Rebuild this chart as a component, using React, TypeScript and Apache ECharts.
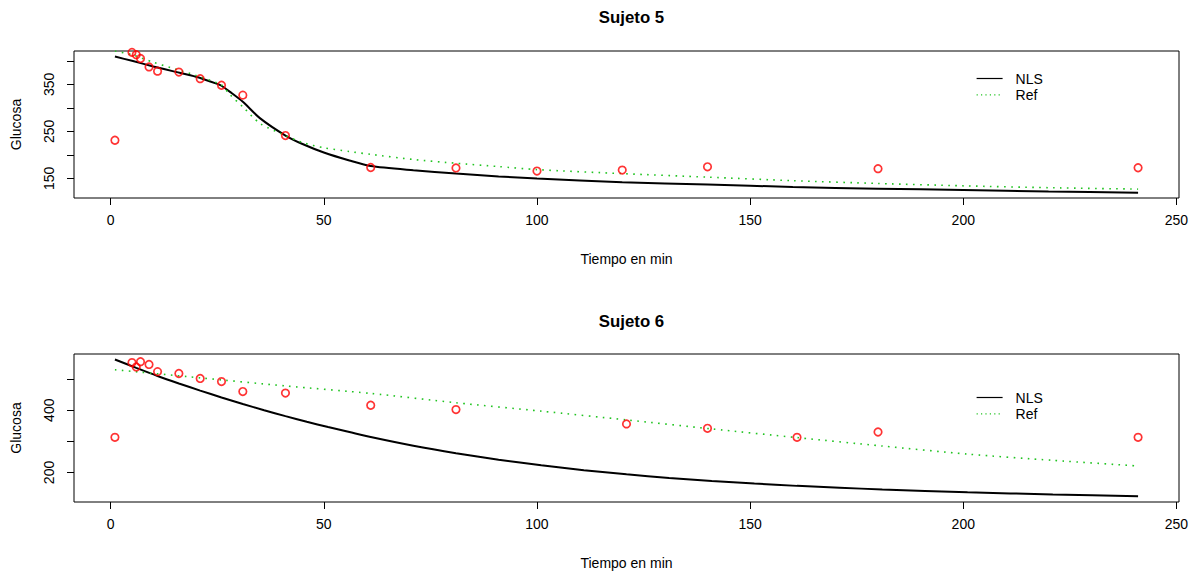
import React, { useEffect, useRef } from "react";
import * as echarts from "echarts";

const FONT = "'Liberation Sans', Arial, Helvetica, sans-serif";

// ---------- Sujeto 5 ----------
const time5 = [1, 5, 6, 7, 9, 11, 16, 21, 26, 31, 41, 61, 81, 100, 120, 140, 180, 241];
const glucose5 = [231, 418, 413, 405, 387, 378, 376, 362, 348, 327, 241, 173, 172, 165.5, 167.5, 174.5, 170.5, 172.5];
const curveTime5 = [1, 5, 10, 15, 20, 25, 26, 28, 31, 35, 41, 45, 50, 56, 61, 71, 81, 91, 100, 120, 140, 160, 180, 200, 220, 241];
const nls5 = [409, 400, 388, 377, 366, 351, 347, 334, 313, 278, 241, 223, 205, 188, 176, 167, 160, 154, 149.5, 141.5, 137, 131.5, 128, 125, 122, 119.5];
const ref5 = [421, 413, 397, 383, 369, 353, 349, 328, 302, 267, 241, 226, 215, 207, 201, 190, 182, 175, 168.5, 160, 152.5, 145, 139, 134, 130, 127];

// ---------- Sujeto 6 ----------
const time6 = [1, 5, 6, 7, 9, 11, 16, 21, 26, 31, 41, 61, 81, 121, 140, 161, 180, 241];
const glucose6 = [313, 553, 539, 556, 547, 524, 518, 502, 492, 460, 455, 416, 402, 356, 342, 313, 330, 313];
const nlsTime6 = [1, 6, 11, 16, 21, 26, 31, 36, 41, 46, 51, 56, 61, 71, 81, 91, 101, 111, 121, 131, 141, 151, 161, 171, 181, 201, 221, 241];
const nls6 = [563, 536, 510, 486, 463, 441, 420, 400, 381, 363, 346, 330, 314, 286, 262, 241, 223, 207.5, 194, 182.5, 173, 164.5, 157, 151, 145.5, 136.5, 129.5, 123.5];
const refTime6 = [1, 21, 41, 61, 81, 101, 121, 141, 161, 181, 201, 221, 241];
const ref6 = [530, 504, 478, 454, 424, 397, 369, 340, 312, 285, 259, 239, 221];

// ---------- axes / labels ----------
const xTicks = [0, 50, 100, 150, 200, 250];
const yTicks5 = [150, 200, 250, 300, 350, 400];
const yLabels5 = [150, 250, 350];
const yTicks6 = [200, 300, 400, 500];
const yLabels6 = [200, 400];
const yRange5 = [108.1, 420.9];
const yRange6 = [105.2, 580.6];
const xRange = [-8.6, 250.6];
const titles = ["Sujeto 5", "Sujeto 6"];
const xName = "Tiempo en min";
const yName = "Glucosa";
const legendNames = ["NLS", "Ref"];

const zip = (xs: number[], ys: number[]) => xs.map((x, i) => [x, ys[i]]);

const GREEN = "#22c422";
const RED = "#ff0000";

export default function App() {
  const ref = useRef<HTMLDivElement>(null);

  useEffect(() => {
    if (!ref.current) return;
    const chart = echarts.init(ref.current, null, { renderer: "svg" });

    const grids = [
      { left: 74, top: 51, width: 1105, height: 147 },
      { left: 74, top: 354, width: 1105, height: 148 },
    ];

    const textStyle = { fontFamily: FONT, fontSize: 14, color: "#000" };

    const mkX = (i: number) => ({
      type: "value",
      gridIndex: i,
      min: xRange[0],
      max: xRange[1],
      axisLine: { show: false, onZero: false },
      splitLine: { show: false },
      axisTick: { show: true, length: 7, lineStyle: { color: "#000", width: 1 }, customValues: xTicks },
      axisLabel: { customValues: xTicks, ...textStyle, margin: 14.5 },
      name: xName,
      nameLocation: "middle",
      nameGap: 53.5,
      nameTextStyle: textStyle,
    });

    const mkY = (i: number, range: number[], ticks: number[], labels: number[]) => ({
      type: "value",
      gridIndex: i,
      min: range[0],
      max: range[1],
      axisLine: { show: false, onZero: false },
      splitLine: { show: false },
      axisTick: { show: true, length: 7, lineStyle: { color: "#000", width: 1 }, customValues: ticks },
      axisLabel: { customValues: labels, rotate: 90, ...textStyle, margin: 18 },
      name: yName,
      nameLocation: "middle",
      nameGap: 51,
      nameTextStyle: textStyle,
    });

    const hiddenSymbol = { color: "rgba(0,0,0,0)", borderColor: "rgba(0,0,0,0)", borderWidth: 0, opacity: 0 };
    const mkLegend = (top: number) => ({
      orient: "vertical",
      left: 976,
      top,
      padding: 0,
      itemWidth: 26,
      itemHeight: 14,
      itemGap: 2.3,
      selectedMode: false,
      textStyle: { ...textStyle, padding: [0, 0, 0, 8] },
      data: [
        { name: legendNames[0], itemStyle: hiddenSymbol, lineStyle: { width: 1.2, color: "#000" } },
        { name: legendNames[1], itemStyle: hiddenSymbol, lineStyle: { width: 1.2, color: GREEN, type: [1.2, 3.2] } },
      ],
    });

    const lineNLS = (i: number, data: number[][]) => ({
      type: "line",
      name: legendNames[0],
      xAxisIndex: i,
      yAxisIndex: i,
      data,
      symbol: "none",
      smooth: 0.25,
      lineStyle: { color: "#000", width: 2 },
      itemStyle: { color: "#000" },
      z: 2,
    });
    const lineRef = (i: number, data: number[][]) => ({
      type: "line",
      name: legendNames[1],
      xAxisIndex: i,
      yAxisIndex: i,
      data,
      symbol: "none",
      smooth: 0.25,
      lineStyle: { color: GREEN, width: 1.6, type: [1.6, 5.4] },
      itemStyle: { color: GREEN },
      z: 2,
    });
    const points = (i: number, data: number[][]) => ({
      type: "scatter",
      name: "Datos",
      xAxisIndex: i,
      yAxisIndex: i,
      data,
      symbol: "circle",
      symbolSize: 7.5,
      itemStyle: { color: "transparent", borderColor: RED, borderWidth: 1.7 },
      z: 3,
    });

    const titleStyle = { fontFamily: FONT, fontSize: 16.8, fontWeight: "bold", color: "#000" };

    chart.setOption({
      animation: false,
      backgroundColor: "#fff",
      title: [
        { text: titles[0], left: 626.5, top: 3.6, textAlign: "center", textStyle: titleStyle },
        { text: titles[1], left: 626.5, top: 307.6, textAlign: "center", textStyle: titleStyle },
      ],
      legend: [mkLegend(71.5), mkLegend(390.5)],
      grid: grids.map((g) => ({ ...g, show: true, borderColor: "#000", borderWidth: 1, backgroundColor: "transparent", outerBoundsMode: "none" })),
      xAxis: [mkX(0), mkX(1)],
      yAxis: [mkY(0, yRange5, yTicks5, yLabels5), mkY(1, yRange6, yTicks6, yLabels6)],
      series: [
        lineNLS(0, zip(curveTime5, nls5)),
        lineRef(0, zip(curveTime5, ref5)),
        points(0, zip(time5, glucose5)),
        lineNLS(1, zip(nlsTime6, nls6)),
        lineRef(1, zip(refTime6, ref6)),
        points(1, zip(time6, glucose6)),
      ],
    });

    return () => chart.dispose();
  }, []);

  return (
    <div
      ref={ref}
      style={{ position: "absolute", left: 0, top: 0, width: 1199, height: 571, background: "#fff" }}
    />
  );
}
